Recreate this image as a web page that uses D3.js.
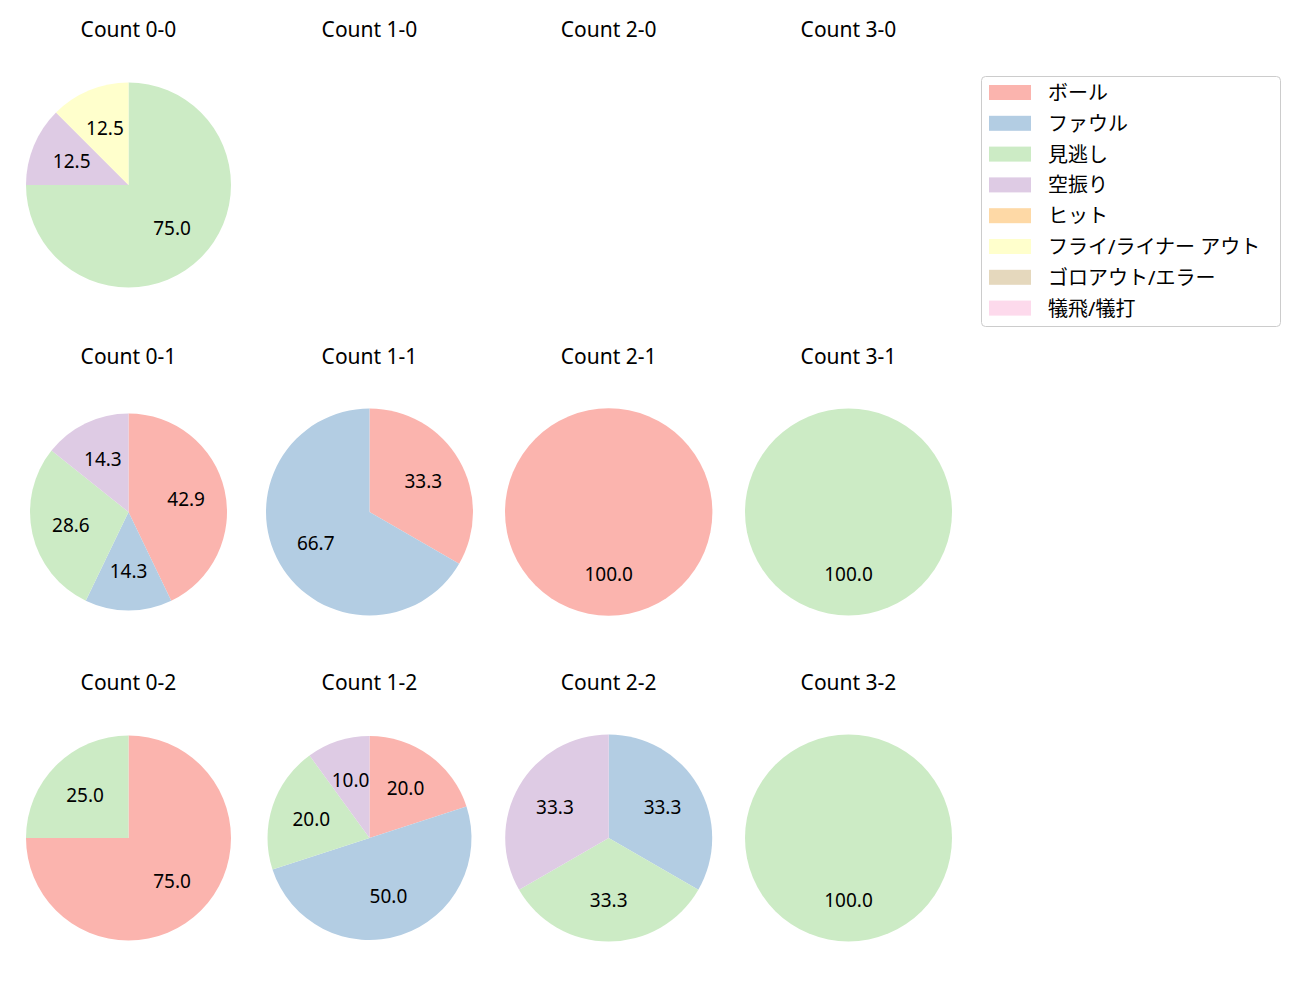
<!DOCTYPE html>
<html>
<head>
<meta charset="utf-8">
<script src="https://cdn.jsdelivr.net/npm/d3@7"></script>
<style>
  html, body { margin: 0; padding: 0; background: #fff; }
  text { font-family: "Noto Sans", "Noto Sans CJK JP", sans-serif; fill: #000; }
</style>
</head>
<body>
<svg id="chart" width="1300" height="1000"></svg>
<script>
// ---- data ----
const categories = ["ボール", "ファウル", "見逃し", "空振り", "ヒット", "フライ/ライナー アウト", "ゴロアウト/エラー", "犠飛/犠打"];
const colors = ["#fbb4ae", "#b3cde3", "#ccebc5", "#decbe4", "#fed9a6", "#ffffcc", "#e5d8bd", "#fddaec"];
const panelTitles = [
  ["Count 0-0", "Count 1-0", "Count 2-0", "Count 3-0"],
  ["Count 0-1", "Count 1-1", "Count 2-1", "Count 3-1"],
  ["Count 0-2", "Count 1-2", "Count 2-2", "Count 3-2"]
];
// values per panel, in category order
const count00 = [0, 0, 6, 1, 0, 1, 0, 0];
const count10 = [];
const count20 = [];
const count30 = [];
const count01 = [3, 1, 2, 1, 0, 0, 0, 0];
const count11 = [1, 2, 0, 0, 0, 0, 0, 0];
const count21 = [1, 0, 0, 0, 0, 0, 0, 0];
const count31 = [0, 0, 1, 0, 0, 0, 0, 0];
const count02 = [3, 0, 1, 0, 0, 0, 0, 0];
const count12 = [2, 5, 2, 1, 0, 0, 0, 0];
const count22 = [0, 1, 1, 1, 0, 0, 0, 0];
const count32 = [0, 0, 1, 0, 0, 0, 0, 0];
const panelValues = [
  [count00, count10, count20, count30],
  [count01, count11, count21, count31],
  [count02, count12, count22, count32]
];

// ---- layout ----
const colX = [128.5, 369.5, 608.7, 848.5];
const rowY = [185, 512, 838];
const titleY = [28.5, 355.5, 681.5];
const radii = [
  [102.5, 103, 103, 103],
  [98.5, 103.5, 103.7, 103.5],
  [102.5, 102, 103.5, 103.5]
];

const svg = d3.select("#chart");
const color = d3.scaleOrdinal().domain(categories).range(colors);
const pie = d3.pie().sort(null).value(d => d.v).startAngle(0).endAngle(2 * Math.PI);

panelValues.forEach((row, ri) => {
  row.forEach((vals, ci) => {
    svg.append("text")
      .attr("x", colX[ci]).attr("y", titleY[ri])
      .attr("text-anchor", "middle")
      .attr("dominant-baseline", "central")
      .style("font-size", "21px")
      .text(panelTitles[ri][ci]);

    const data = vals.map((v, i) => ({ v, cat: categories[i] })).filter(d => d.v > 0);
    if (!data.length) return;
    const total = d3.sum(data, d => d.v);
    const r = radii[ri][ci];
    const g = svg.append("g").attr("transform", `translate(${colX[ci]},${rowY[ri]})`);
    const arc = d3.arc().innerRadius(0).outerRadius(r);
    const labelArc = d3.arc().innerRadius(r * 0.6).outerRadius(r * 0.6);
    const arcs = pie(data);
    g.selectAll("path").data(arcs).join("path")
      .attr("d", arc)
      .attr("fill", d => color(d.data.cat));
    g.selectAll("text").data(arcs).join("text")
      .attr("transform", d => `translate(${labelArc.centroid(d)})`)
      .attr("text-anchor", "middle")
      .attr("dominant-baseline", "central")
      .style("font-size", "19px")
      .text(d => (d.data.v / total * 100).toFixed(1));
  });
});

// ---- legend ----
const lg = svg.append("g");
lg.append("rect")
  .attr("x", 981.5).attr("y", 76.5).attr("width", 299).attr("height", 250)
  .attr("rx", 4).attr("ry", 4)
  .attr("fill", "#fff").attr("stroke", "#cccccc").attr("stroke-width", 1);
const rowStep = 30.8;
categories.forEach((c, i) => {
  const y = 92.5 + i * rowStep;
  lg.append("rect")
    .attr("x", 989).attr("y", y - 7.5).attr("width", 42).attr("height", 15)
    .attr("fill", color(c));
  lg.append("text")
    .attr("x", 1048).attr("y", y)
    .attr("dominant-baseline", "central")
    .style("font-size", "20px")
    .text(c);
});
</script>
</body>
</html>
